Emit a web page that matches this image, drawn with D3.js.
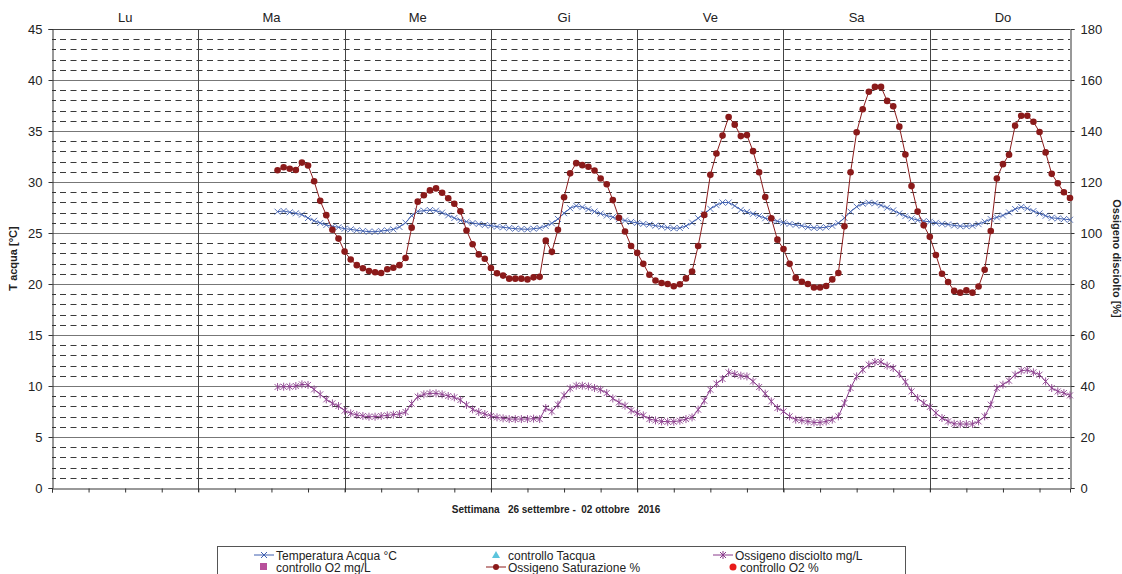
<!DOCTYPE html>
<html>
<head>
<meta charset="utf-8">
<script src="https://cdn.jsdelivr.net/npm/d3@7"></script>
<style>
  body { margin: 0; background: #fff; }
  svg { font-family: "Liberation Sans", Arial, sans-serif; }
</style>
</head>
<body>
<script>
// giorni della settimana (colonne)
const days = ["Lu", "Ma", "Me", "Gi", "Ve", "Sa", "Do"];
const firstHour = 37; // prima misura: Ma ore 13, poi ogni ora

// Temperatura Acqua °C (asse sinistro)
const tempAcqua = [27.09, 27.16, 27.03, 26.93, 26.8, 26.47, 26.2, 25.98, 25.78, 25.65, 25.56,
  25.42, 25.36, 25.26, 25.2, 25.13, 25.13, 25.2, 25.26, 25.36, 25.59, 26.01, 26.7, 27.12, 27.19,
  27.25, 27.19, 27.0, 26.73, 26.47, 26.24, 26.11, 25.98, 25.88, 25.78, 25.72, 25.62, 25.56, 25.49,
  25.42, 25.39, 25.36, 25.42, 25.49, 25.69, 25.95, 26.38, 26.94, 27.43, 27.66, 27.53, 27.34, 27.11,
  26.91, 26.71, 26.55, 26.35, 26.22, 26.09, 25.99, 25.89, 25.82, 25.72, 25.63, 25.53, 25.46, 25.49,
  25.69, 26.02, 26.45, 26.88, 27.37, 27.73, 27.99, 27.99, 27.66, 27.27, 27.07, 26.88, 26.68, 26.45,
  26.28, 26.15, 26.02, 25.89, 25.8, 25.71, 25.57, 25.51, 25.51, 25.57, 25.71, 25.97, 26.49, 27.09,
  27.58, 27.87, 27.97, 27.91, 27.71, 27.48, 27.22, 26.92, 26.66, 26.43, 26.26, 26.17, 26.1, 26.0,
  25.9, 25.84, 25.74, 25.67, 25.67, 25.71, 25.87, 26.1, 26.36, 26.53, 26.72, 27.02, 27.35, 27.55,
  27.41, 27.15, 26.92, 26.69, 26.49, 26.43, 26.36, 26.3];

// Ossigeno disciolto mg/L (asse sinistro)
const o2mgL = [9.9, 9.93, 9.93, 10.0, 10.16, 10.1, 9.67, 9.18, 8.69, 8.3, 8.04, 7.58, 7.32, 7.16,
  7.06, 6.99, 6.99, 7.06, 7.12, 7.19, 7.25, 7.45, 8.27, 8.95, 9.18, 9.28, 9.28, 9.18, 9.02, 8.89,
  8.63, 8.14, 7.71, 7.45, 7.25, 7.06, 6.93, 6.83, 6.76, 6.76, 6.76, 6.76, 6.8, 6.76, 7.84, 7.51,
  8.17, 9.08, 9.77, 10.03, 10.03, 9.96, 9.8, 9.64, 9.31, 8.78, 8.39, 8.07, 7.61, 7.35, 7.12, 6.76,
  6.63, 6.53, 6.5, 6.5, 6.6, 6.76, 6.92, 7.68, 8.56, 9.64, 10.23, 10.69, 11.33, 11.17, 11.01, 10.94,
  10.45, 9.9, 9.25, 8.49, 7.84, 7.51, 7.02, 6.7, 6.63, 6.53, 6.43, 6.43, 6.53, 6.7, 7.02, 8.33,
  9.8, 10.94, 11.6, 12.09, 12.35, 12.35, 11.99, 11.76, 11.18, 10.4, 9.47, 8.82, 8.33, 7.94, 7.35,
  6.86, 6.53, 6.3, 6.27, 6.27, 6.27, 6.53, 7.02, 8.17, 9.8, 10.13, 10.52, 11.11, 11.5, 11.57,
  11.34, 11.11, 10.45, 9.8, 9.47, 9.31, 9.08];

// Ossigeno Saturazione % (asse destro)
const o2Sat = [124.6, 125.8, 125.2, 124.7, 127.6, 126.5, 120.3, 112.6, 107.0, 101.3, 97.8, 92.7,
  89.6, 87.4, 86.2, 85.1, 84.6, 84.3, 85.8, 86.4, 87.4, 90.2, 102.1, 112.3, 114.8, 116.7, 117.5,
  115.8, 113.6, 111.5, 108.5, 101.0, 95.6, 91.6, 89.9, 86.3, 84.2, 83.3, 82.1, 82.1, 82.1, 81.8,
  82.6, 82.8, 97.0, 92.6, 101.3, 114.0, 123.4, 127.4, 126.6, 126.0, 124.5, 121.4, 119.1, 112.9,
  106.0, 100.6, 94.9, 92.2, 87.9, 83.6, 81.4, 80.4, 80.0, 79.1, 79.9, 82.2, 84.9, 94.9, 107.1,
  122.8, 131.2, 138.2, 145.5, 142.5, 138.0, 138.4, 132.1, 123.8, 114.1, 105.8, 97.4, 93.7, 87.9,
  82.4, 80.9, 80.0, 78.6, 78.6, 79.2, 81.8, 84.3, 102.6, 123.8, 139.5, 148.5, 155.4, 157.3, 157.3,
  151.8, 149.7, 141.7, 130.8, 118.4, 108.4, 103.0, 98.5, 91.4, 84.0, 80.8, 77.3, 76.6, 77.5, 76.6,
  79.0, 85.6, 100.8, 121.4, 127.0, 130.7, 142.1, 146.0, 146.0, 143.6, 139.6, 131.6, 123.2, 119.5,
  116.0, 113.7];

// controlli (nessun valore nel periodo)
const controlloTacqua = [];
const controlloO2mgL = [];
const controlloO2perc = [];

const leftTicks = [0, 5, 10, 15, 20, 25, 30, 35, 40, 45];
const rightTicks = [0, 20, 40, 60, 80, 100, 120, 140, 160, 180];

const W = 1122, H = 574;
const m = { left: 52, right: 1070, top: 29, bottom: 488 };

const svg = d3.select("body").append("svg").attr("width", W).attr("height", H);

const x = d3.scaleLinear().domain([0, 167]).range([m.left, m.right]);
const yL = d3.scaleLinear().domain([0, 45]).range([m.bottom, m.top]);
const yR = d3.scaleLinear().domain([0, 180]).range([m.bottom, m.top]);

const col = { temp: "#3f5fb0", sat: "#8b1a1a", mg: "#8a3a8c" };

// griglia: linee tratteggiate ogni grado, continue ogni 5
const grid = svg.append("g");
grid.selectAll("line.minor")
  .data(d3.range(1, 45).filter(d => d % 5 !== 0))
  .enter().append("line")
  .attr("x1", m.left + 8).attr("x2", m.right)
  .attr("y1", d => Math.round(yL(d)) + 0.5).attr("y2", d => Math.round(yL(d)) + 0.5)
  .attr("stroke", "#3a3a3a").attr("stroke-dasharray", "6,4.5");
grid.selectAll("line.major")
  .data(leftTicks.slice(1))
  .enter().append("line")
  .attr("x1", m.left).attr("x2", m.right)
  .attr("y1", d => Math.round(yL(d)) + 0.5).attr("y2", d => Math.round(yL(d)) + 0.5)
  .attr("stroke", "#777");

// separatori dei giorni
grid.selectAll("line.day")
  .data(d3.range(1, 7))
  .enter().append("line")
  .attr("x1", d => Math.round(x(d * 24)) + 0.5).attr("x2", d => Math.round(x(d * 24)) + 0.5)
  .attr("y1", m.top).attr("y2", m.bottom + 4)
  .attr("stroke", "#444");

// bordo superiore
svg.append("line").attr("x1", m.left).attr("x2", m.right)
  .attr("y1", m.top + 0.5).attr("y2", m.top + 0.5).attr("stroke", "#444");

// assi
const axL = d3.axisLeft(yL).tickValues(leftTicks).tickSize(4).tickPadding(6);
const gL = svg.append("g").attr("transform", `translate(${m.left + 0.5},0)`).call(axL);
const axR = d3.axisRight(yR).tickValues(rightTicks).tickSize(4).tickPadding(6);
const gR = svg.append("g").attr("transform", `translate(${m.right + 0.5},0)`).call(axR);
const axB = d3.axisBottom(x).tickValues(d3.range(0, 168, 6)).tickSize(4).tickFormat("");
const gB = svg.append("g").attr("transform", `translate(0,${m.bottom + 0.5})`).call(axB);

[gL, gR, gB].forEach(g => {
  g.select(".domain").attr("stroke", "#333");
  g.selectAll(".tick line").attr("stroke", "#333");
  g.selectAll(".tick text").attr("fill", "#222").style("font-size", "13px")
    .style("font-family", "'Liberation Sans', Arial, sans-serif");
});

// tacche minori interne
svg.append("g").selectAll("line")
  .data(d3.range(1, 45).filter(d => d % 5 !== 0))
  .enter().append("line")
  .attr("x1", m.left).attr("x2", m.left + 4)
  .attr("y1", d => Math.round(yL(d)) + 0.5).attr("y2", d => Math.round(yL(d)) + 0.5)
  .attr("stroke", "#333");

// etichette dei giorni
svg.append("g").selectAll("text")
  .data(days)
  .enter().append("text")
  .attr("x", (d, i) => x(i * 24 + 12))
  .attr("y", 22)
  .attr("text-anchor", "middle")
  .style("font-size", "13px").attr("fill", "#222")
  .text(d => d);

// titoli assi
svg.append("text")
  .attr("transform", `translate(17,${(m.top + m.bottom) / 2}) rotate(-90)`)
  .attr("text-anchor", "middle").style("font-size", "11px").style("font-weight", "bold")
  .attr("fill", "#222").text("T acqua [°C]");
svg.append("text")
  .attr("transform", `translate(1113,${(m.top + m.bottom) / 2}) rotate(90)`)
  .attr("text-anchor", "middle").style("font-size", "11px").style("font-weight", "bold")
  .attr("fill", "#222").text("Ossigeno disciolto [%]");
svg.append("text")
  .attr("x", 556).attr("y", 513)
  .attr("text-anchor", "middle").style("font-size", "10px").style("font-weight", "bold")
  .attr("fill", "#222").style("white-space", "pre")
  .text("Settimana   26 settembre -  02 ottobre   2016");

// serie
const toPts = (arr) => arr.map((v, i) => ({ h: firstHour + i, v }));
const line = (ys) => d3.line().x(d => x(d.h)).y(d => ys(d.v));

const plot = svg.append("g");

function crossPath(s) { return `M${-s},${-s}L${s},${s}M${-s},${s}L${s},${-s}`; }
function starPath(s) { return `M${-s},${-s}L${s},${s}M${-s},${s}L${s},${-s}M0,${-s - 1}L0,${s + 1}`; }

// ossigeno mg/L
const mgPts = toPts(o2mgL);
plot.append("path").datum(mgPts).attr("d", line(yL)).attr("fill", "none")
  .attr("stroke", col.mg).attr("stroke-width", 1);
plot.append("g").selectAll("path").data(mgPts).enter().append("path")
  .attr("transform", d => `translate(${x(d.h)},${yL(d.v)})`)
  .attr("d", starPath(3)).attr("stroke", col.mg).attr("stroke-width", 1).attr("opacity", 0.85);

// temperatura
const tPts = toPts(tempAcqua);
plot.append("path").datum(tPts).attr("d", line(yL)).attr("fill", "none")
  .attr("stroke", col.temp).attr("stroke-width", 1);
plot.append("g").selectAll("path").data(tPts).enter().append("path")
  .attr("transform", d => `translate(${x(d.h)},${yL(d.v)})`)
  .attr("d", crossPath(3)).attr("stroke", col.temp).attr("stroke-width", 1).attr("opacity", 0.85);

// saturazione
const sPts = toPts(o2Sat);
plot.append("path").datum(sPts).attr("d", line(yR)).attr("fill", "none")
  .attr("stroke", col.sat).attr("stroke-width", 1);
plot.append("g").selectAll("circle").data(sPts).enter().append("circle")
  .attr("cx", d => x(d.h)).attr("cy", d => yR(d.v)).attr("r", 3.3)
  .attr("fill", col.sat);

// controlli (vuoti)
plot.append("g").selectAll("circle").data(controlloO2perc).enter().append("circle")
  .attr("cx", d => x(d.h)).attr("cy", d => yR(d.v)).attr("r", 3.3).attr("fill", "#e81b1b");

// legenda
const lg = svg.append("g");
lg.append("rect").attr("x", 217.5).attr("y", 546.5).attr("width", 688).attr("height", 40)
  .attr("fill", "#fff").attr("stroke", "#555");

const legendItems = [
  { label: "Temperatura Acqua °C", x: 254, y: 555, kind: "cross", color: col.temp },
  { label: "controllo Tacqua", x: 486, y: 555, kind: "tri", color: "#5bc4dc" },
  { label: "Ossigeno disciolto mg/L", x: 713, y: 555, kind: "star", color: col.mg },
  { label: "controllo O2 mg/L", x: 254, y: 567, kind: "square", color: "#b8509b" },
  { label: "Ossigeno Saturazione %", x: 486, y: 567, kind: "dot", color: col.sat },
  { label: "controllo O2 %", x: 713, y: 567, kind: "circ", color: "#e81b1b" }
];
legendItems.forEach(it => {
  const g = lg.append("g").attr("transform", `translate(${it.x},${it.y})`);
  const cx = 10;
  if (it.kind === "cross" || it.kind === "star" || it.kind === "dot") {
    g.append("line").attr("x1", 0).attr("x2", 20).attr("y1", 0).attr("y2", 0)
      .attr("stroke", it.color);
  }
  if (it.kind === "cross") g.append("path").attr("transform", `translate(${cx},0)`)
    .attr("d", crossPath(3)).attr("stroke", it.color);
  if (it.kind === "star") g.append("path").attr("transform", `translate(${cx},0)`)
    .attr("d", starPath(3)).attr("stroke", it.color);
  if (it.kind === "dot") g.append("circle").attr("cx", cx).attr("r", 3).attr("fill", it.color);
  if (it.kind === "tri") g.append("path").attr("transform", `translate(${cx},0)`)
    .attr("d", "M0,-4L4,3L-4,3Z").attr("fill", it.color);
  if (it.kind === "square") g.append("rect").attr("x", cx - 4).attr("y", -4)
    .attr("width", 7).attr("height", 7).attr("fill", it.color);
  if (it.kind === "circ") g.append("circle").attr("cx", cx + 10).attr("r", 3.5).attr("fill", it.color);
  g.append("text").attr("x", it.kind === "circ" ? 27 : 22).attr("y", 4.5)
    .style("font-size", "12px").attr("fill", "#222").text(it.label);
});
</script>
</body>
</html>
